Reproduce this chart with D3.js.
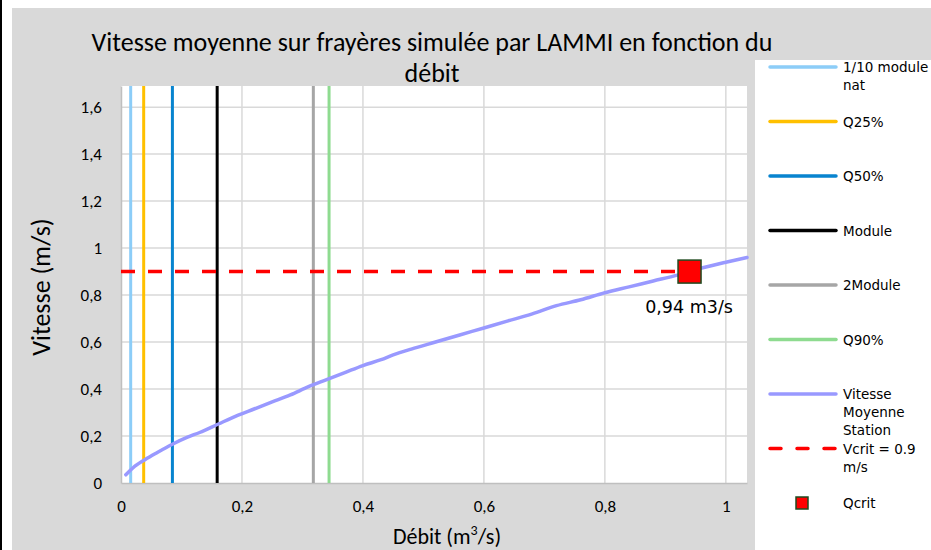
<!DOCTYPE html>
<html>
<head>
<meta charset="utf-8">
<script src="https://cdn.jsdelivr.net/npm/d3@7"></script>
<style>
  html, body { margin: 0; padding: 0; background: #fff; }
  svg { display: block; }
</style>
</head>
<body>
<svg id="chart" width="931" height="550"></svg>
<script>
// Débit (m3/s) and simulated mean velocity (m/s) on the spawning grounds
const debit   = [0.008, 0.02, 0.04, 0.06, 0.085, 0.11, 0.13, 0.16, 0.19, 0.22, 0.25, 0.28, 0.31, 0.34, 0.37, 0.40, 0.43, 0.45, 0.48, 0.52, 0.56, 0.60, 0.64, 0.68, 0.72, 0.76, 0.80, 0.84, 0.88, 0.92, 0.96, 1.00, 1.035];
const vitesse = [0.035, 0.065, 0.10, 0.13, 0.165, 0.195, 0.215, 0.25, 0.285, 0.315, 0.345, 0.375, 0.41, 0.44, 0.47, 0.50, 0.525, 0.545, 0.57, 0.60, 0.63, 0.66, 0.69, 0.72, 0.755, 0.78, 0.81, 0.835, 0.86, 0.885, 0.915, 0.94, 0.96];

// Reference discharges drawn as vertical lines
const refNames  = ["1/10 module nat", "Q25%", "Q50%", "Module", "2Module", "Q90%"];
const refDebits = [0.016, 0.0375, 0.085, 0.159, 0.318, 0.344];

// Critical velocity and the discharge where it is reached
const vCrit = 0.9;
const qCrit = 0.94;
const qCritLabel = "0,94 m3/s";

// Axis ticks
const xTicks = [0, 0.2, 0.4, 0.6, 0.8, 1];
const yTicks = [0, 0.2, 0.4, 0.6, 0.8, 1, 1.2, 1.4, 1.6];

// Styles
const refColors = ["#8ccdf8", "#ffc000", "#0884cf", "#000000", "#a6a6a6", "#8edb90"];
const curveColor = "#9999ff";
const critColor = "#ff0000";
const markerStroke = "#1f4a1f";
const gridColor = "#d9d9d9";
const axisColor = "#bfbfbf";
const tickFont = "Carlito, 'Liberation Sans', Arial, sans-serif";
const legendFont = "'DejaVu Sans', sans-serif";

const svg = d3.select("#chart");

// Frame and chart background
svg.append("rect").attr("x", 0).attr("y", 0).attr("width", 931).attr("height", 550).attr("fill", "#fff");
svg.append("rect").attr("x", 0).attr("y", 0).attr("width", 2).attr("height", 550).attr("fill", "#000");
svg.append("rect").attr("x", 12).attr("y", 8).attr("width", 919).attr("height", 542).attr("fill", "#d9d9d9");

const plot = { left: 121, right: 747, top: 86, bottom: 483 };
const x = d3.scaleLinear().domain([0, 1.035]).range([plot.left, plot.right]);
const y = d3.scaleLinear().domain([0, 1.69]).range([plot.bottom, plot.top]);
const fmt = d => d3.format("~g")(d).replace(".", ",");

// Plot area
svg.append("rect")
  .attr("x", plot.left).attr("y", plot.top)
  .attr("width", plot.right - plot.left).attr("height", plot.bottom - plot.top)
  .attr("fill", "#fff");

// Gridlines
svg.append("g").selectAll("line").data(yTicks.filter(d => d > 0)).join("line")
  .attr("x1", plot.left).attr("x2", plot.right)
  .attr("y1", d => y(d)).attr("y2", d => y(d))
  .attr("stroke", gridColor).attr("stroke-width", 1.5);
svg.append("g").selectAll("line").data(xTicks.filter(d => d > 0)).join("line")
  .attr("y1", plot.top).attr("y2", plot.bottom)
  .attr("x1", d => x(d)).attr("x2", d => x(d))
  .attr("stroke", gridColor).attr("stroke-width", 1.5);

// Axes
const xAxis = svg.append("g").attr("transform", `translate(0,${plot.bottom})`)
  .call(d3.axisBottom(x).tickValues(xTicks).tickFormat(fmt).tickSize(0).tickPadding(17));
const yAxis = svg.append("g").attr("transform", `translate(${plot.left},0)`)
  .call(d3.axisLeft(y).tickValues(yTicks).tickFormat(fmt).tickSize(0).tickPadding(18));
[xAxis, yAxis].forEach(g => {
  g.select(".domain").attr("stroke", axisColor).attr("stroke-width", 1.5);
  g.selectAll("text").attr("font-family", tickFont).attr("font-size", 17).attr("fill", "#000");
});
yAxis.selectAll(".tick text").attr("x", -19);

// Reference discharge lines
svg.append("g").selectAll("line").data(refDebits).join("line")
  .attr("x1", d => x(d)).attr("x2", d => x(d))
  .attr("y1", plot.top).attr("y2", plot.bottom)
  .attr("stroke", (d, i) => refColors[i]).attr("stroke-width", 3);

// Velocity curve
const pts = debit.map((d, i) => [d, vitesse[i]]);
svg.append("path").datum(pts)
  .attr("d", d3.line().x(d => x(d[0])).y(d => y(d[1])).curve(d3.curveMonotoneX))
  .attr("fill", "none").attr("stroke", curveColor).attr("stroke-width", 3.5)
  .attr("stroke-linecap", "round");

// Critical velocity line
svg.append("line")
  .attr("x1", x(0)).attr("x2", x(qCrit))
  .attr("y1", y(vCrit)).attr("y2", y(vCrit))
  .attr("stroke", critColor).attr("stroke-width", 3.5)
  .attr("stroke-dasharray", "14,13");

// Critical discharge marker and its label
svg.append("rect")
  .attr("x", x(qCrit) - 11.5).attr("y", y(vCrit) - 11.5)
  .attr("width", 23).attr("height", 23)
  .attr("fill", critColor).attr("stroke", markerStroke).attr("stroke-width", 1.5);
svg.append("text")
  .attr("x", x(qCrit) - 0.5).attr("y", y(vCrit) + 41)
  .attr("text-anchor", "middle")
  .attr("font-family", legendFont).attr("font-size", 17.5)
  .text(qCritLabel);

// Title, two lines
const titleLines = ["Vitesse moyenne sur frayères simulée par LAMMI en fonction du", "débit"];
svg.append("g").selectAll("text").data(titleLines).join("text")
  .attr("x", 432).attr("y", (d, i) => 51 + i * 31)
  .attr("text-anchor", "middle")
  .attr("font-family", tickFont).attr("font-size", 26).attr("fill", "#000")
  .text(d => d);

// Axis titles
svg.append("text")
  .attr("transform", "translate(50,287) rotate(-90)")
  .attr("text-anchor", "middle")
  .attr("font-family", tickFont).attr("font-size", 26)
  .text("Vitesse (m/s)");
const xt = svg.append("text")
  .attr("x", 447).attr("y", 544)
  .attr("text-anchor", "middle")
  .attr("font-family", tickFont).attr("font-size", 22);
xt.append("tspan").text("Débit (m");
xt.append("tspan").attr("font-size", 14).attr("dy", -9).text("3");
xt.append("tspan").attr("dy", 9).text("/s)");

// Legend
svg.append("rect").attr("x", 755).attr("y", 60).attr("width", 176).attr("height", 490).attr("fill", "#fff");

const legendItems = [
  { lines: ["1/10 module", "nat"], type: "line", color: refColors[0] },
  { lines: ["Q25%"], type: "line", color: refColors[1] },
  { lines: ["Q50%"], type: "line", color: refColors[2] },
  { lines: ["Module"], type: "line", color: refColors[3] },
  { lines: ["2Module"], type: "line", color: refColors[4] },
  { lines: ["Q90%"], type: "line", color: refColors[5] },
  { lines: ["Vitesse", "Moyenne", "Station"], type: "line", color: curveColor },
  { lines: ["Vcrit = 0.9", "m/s"], type: "dash", color: critColor },
  { lines: ["Qcrit"], type: "marker", color: critColor }
];
const legendY = d3.scaleLinear().domain([0, 8]).range([67, 503]);
const lg = svg.append("g").selectAll("g").data(legendItems).join("g")
  .attr("transform", (d, i) => `translate(0,${legendY(i)})`);
lg.filter(d => d.type !== "marker").append("line")
  .attr("x1", 770).attr("x2", 836).attr("y1", 0).attr("y2", 0)
  .attr("stroke", d => d.color).attr("stroke-width", 3.5)
  .attr("stroke-linecap", "round")
  .attr("stroke-dasharray", d => d.type === "dash" ? "11,16" : null);
lg.filter(d => d.type === "marker").append("rect")
  .attr("x", 796).attr("y", -6).attr("width", 12).attr("height", 12)
  .attr("fill", critColor).attr("stroke", markerStroke).attr("stroke-width", 1.5);
lg.append("text")
  .attr("font-family", legendFont).attr("font-size", 13.5).attr("fill", "#000")
  .selectAll("tspan").data(d => d.lines).join("tspan")
  .attr("x", 843).attr("y", (d, i) => 5 + i * 18)
  .text(d => d);
</script>
</body>
</html>
